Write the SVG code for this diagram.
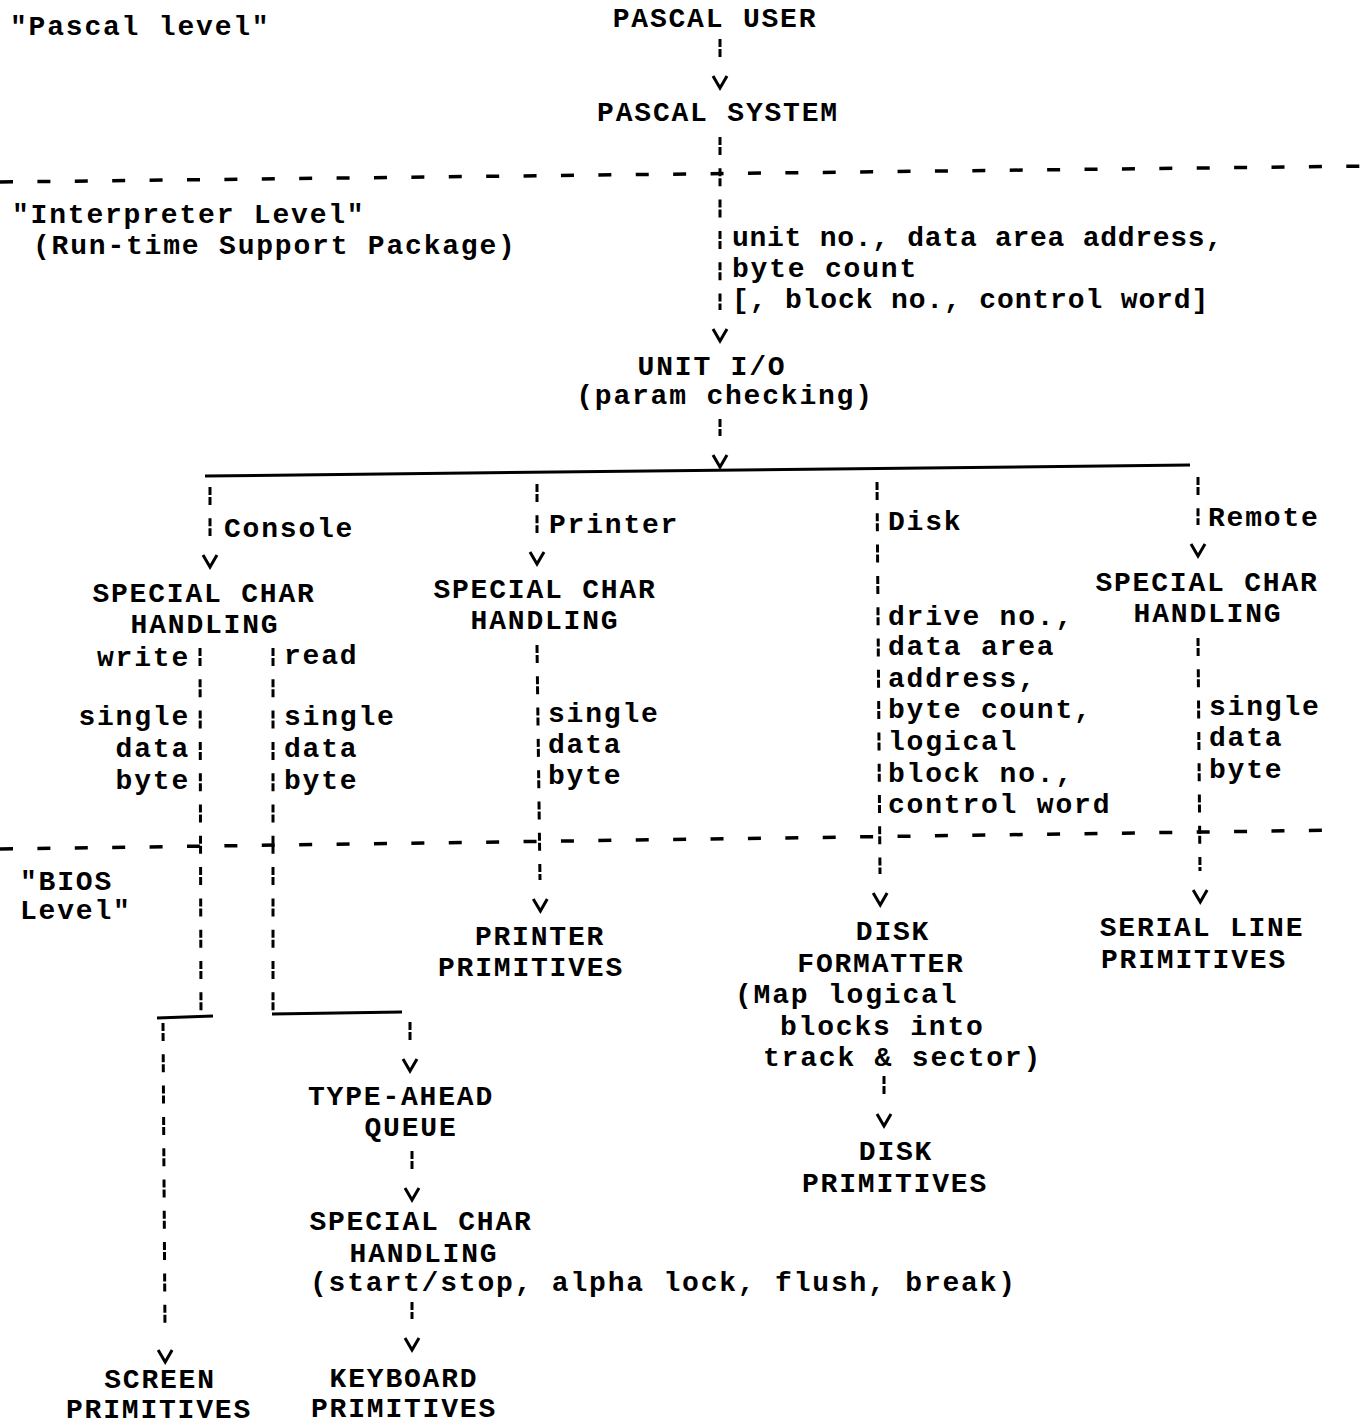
<svg xmlns="http://www.w3.org/2000/svg" width="1371" height="1425" viewBox="0 0 1371 1425">
<style>
text { font-family: "Liberation Mono", "DejaVu Sans Mono", monospace; font-weight: bold; font-size: 28px; letter-spacing: 1.8px; fill: #000; }
.c { text-anchor: middle; }
.e { text-anchor: end; }
.dl { fill: none; stroke: #000; stroke-width: 3; stroke-dasharray: 8 2 8 13.3; }
.sl { fill: none; stroke: #000; stroke-width: 3; }
.sep { fill: none; stroke: #000; stroke-width: 3.5; stroke-dasharray: 13 24.4; }
</style>
<defs>
<marker id="v" markerUnits="userSpaceOnUse" markerWidth="40" markerHeight="20" viewBox="0 -10 40 20" refX="0" refY="0" orient="auto" overflow="visible">
<path d="M19,-7 L31,0 L19,7" fill="none" stroke="#000" stroke-width="3" stroke-dasharray="none"/>
</marker>
</defs>
<rect width="1371" height="1425" fill="#fff"/>

<g id="levels">
<path class="sep" d="M0,182 L1371,166"/>
<path class="sep" d="M0,849 L1345,830"/>
<g id="label-pascal-level"><text x="10" y="35">"Pascal level"</text></g>
<g id="label-interpreter-level"><text x="12" y="223">"Interpreter Level"</text><text x="33" y="254">(Run-time Support Package)</text></g>
<g id="label-bios-level"><text x="20" y="890">"BIOS</text><text x="20" y="919">Level"</text></g>
</g>

<g id="connectors">
<path class="dl" d="M720,39 L720,57" marker-end="url(#v)"/>
<path class="dl" d="M720,137 L720,310" marker-end="url(#v)"/>
<path class="dl" d="M720,419 L720,436" marker-end="url(#v)"/>
<path class="sl" d="M205,476 L1190,465"/>
<path class="dl" d="M210,487 L210,536" marker-end="url(#v)"/>
<path class="dl" d="M537,484 L537,533" marker-end="url(#v)"/>
<path class="dl" d="M877,482 L880,874" marker-end="url(#v)"/>
<path class="dl" d="M1198,477 L1198,525" marker-end="url(#v)"/>
<path class="dl" d="M1198,638 L1200,871" marker-end="url(#v)"/>
<path class="dl" d="M537,645 L540,880" marker-end="url(#v)"/>
<path class="dl" d="M200,648 L201,1017"/>
<path class="sl" d="M157,1018 L213,1016"/>
<path class="dl" d="M163,1023 L165,1331" marker-end="url(#v)"/>
<path class="dl" d="M273,648 L273,1013"/>
<path class="sl" d="M272,1014 L402,1012"/>
<path class="dl" d="M410,1022 L410,1040" marker-end="url(#v)"/>
<path class="dl" d="M412,1151 L412,1169" marker-end="url(#v)"/>
<path class="dl" d="M412,1302 L412,1319" marker-end="url(#v)"/>
<path class="dl" d="M884,1076 L884,1095" marker-end="url(#v)"/>
</g>

<g id="connector-labels">
<text x="732" y="246" textLength="492" lengthAdjust="spacing">unit no., data area address,</text>
<text x="732" y="277">byte count</text>
<text x="732" y="308" textLength="478" lengthAdjust="spacing">[, block no., control word]</text>
<text x="224" y="537">Console</text>
<text x="549" y="533">Printer</text>
<text x="888" y="530">Disk</text>
<text x="1208" y="526">Remote</text>
<text class="e" x="190" y="666">write</text>
<text class="e" x="190" y="725">single</text>
<text class="e" x="190" y="757">data</text>
<text class="e" x="190" y="789">byte</text>
<text x="284" y="664">read</text>
<text x="284" y="725">single</text>
<text x="284" y="757">data</text>
<text x="284" y="789">byte</text>
<text x="548" y="722">single</text>
<text x="548" y="753">data</text>
<text x="548" y="784">byte</text>
<text x="888" y="625">drive no.,</text>
<text x="888" y="655">data area</text>
<text x="888" y="687">address,</text>
<text x="888" y="718">byte count,</text>
<text x="888" y="750">logical</text>
<text x="888" y="782">block no.,</text>
<text x="888" y="813">control word</text>
<text x="1209" y="715">single</text>
<text x="1209" y="746">data</text>
<text x="1209" y="778">byte</text>
</g>

<g id="node-pascal-user"><text class="c" x="715" y="27">PASCAL USER</text></g>
<g id="node-pascal-system"><text class="c" x="718" y="121">PASCAL SYSTEM</text></g>
<g id="node-unit-io"><text class="c" x="712" y="375">UNIT I/O</text><text class="c" x="725" y="404">(param checking)</text></g>
<g id="node-console-special"><text class="c" x="204" y="602">SPECIAL CHAR</text><text class="c" x="205" y="633">HANDLING</text></g>
<g id="node-printer-special"><text class="c" x="545" y="598">SPECIAL CHAR</text><text class="c" x="545" y="629">HANDLING</text></g>
<g id="node-remote-special"><text class="c" x="1207" y="591">SPECIAL CHAR</text><text class="c" x="1208" y="622">HANDLING</text></g>
<g id="node-printer-primitives"><text class="c" x="540" y="945">PRINTER</text><text class="c" x="531" y="976">PRIMITIVES</text></g>
<g id="node-disk-formatter"><text class="c" x="893" y="940">DISK</text><text class="c" x="881" y="972">FORMATTER</text><text x="735" y="1003">(Map logical</text><text x="780" y="1035">blocks into</text><text x="763" y="1066">track &amp; sector)</text></g>
<g id="node-disk-primitives"><text class="c" x="896" y="1160">DISK</text><text class="c" x="895" y="1192">PRIMITIVES</text></g>
<g id="node-serial-line-primitives"><text class="c" x="1202" y="936">SERIAL LINE</text><text class="c" x="1194" y="968">PRIMITIVES</text></g>
<g id="node-type-ahead-queue"><text class="c" x="401" y="1105">TYPE-AHEAD</text><text class="c" x="411" y="1136">QUEUE</text></g>
<g id="node-keyboard-special"><text class="c" x="421" y="1230">SPECIAL CHAR</text><text class="c" x="424" y="1262">HANDLING</text><text x="310" y="1291">(start/stop, alpha lock, flush, break)</text></g>
<g id="node-screen-primitives"><text class="c" x="160" y="1388">SCREEN</text><text class="c" x="159" y="1418">PRIMITIVES</text></g>
<g id="node-keyboard-primitives"><text class="c" x="404" y="1387">KEYBOARD</text><text class="c" x="404" y="1417">PRIMITIVES</text></g>
</svg>
